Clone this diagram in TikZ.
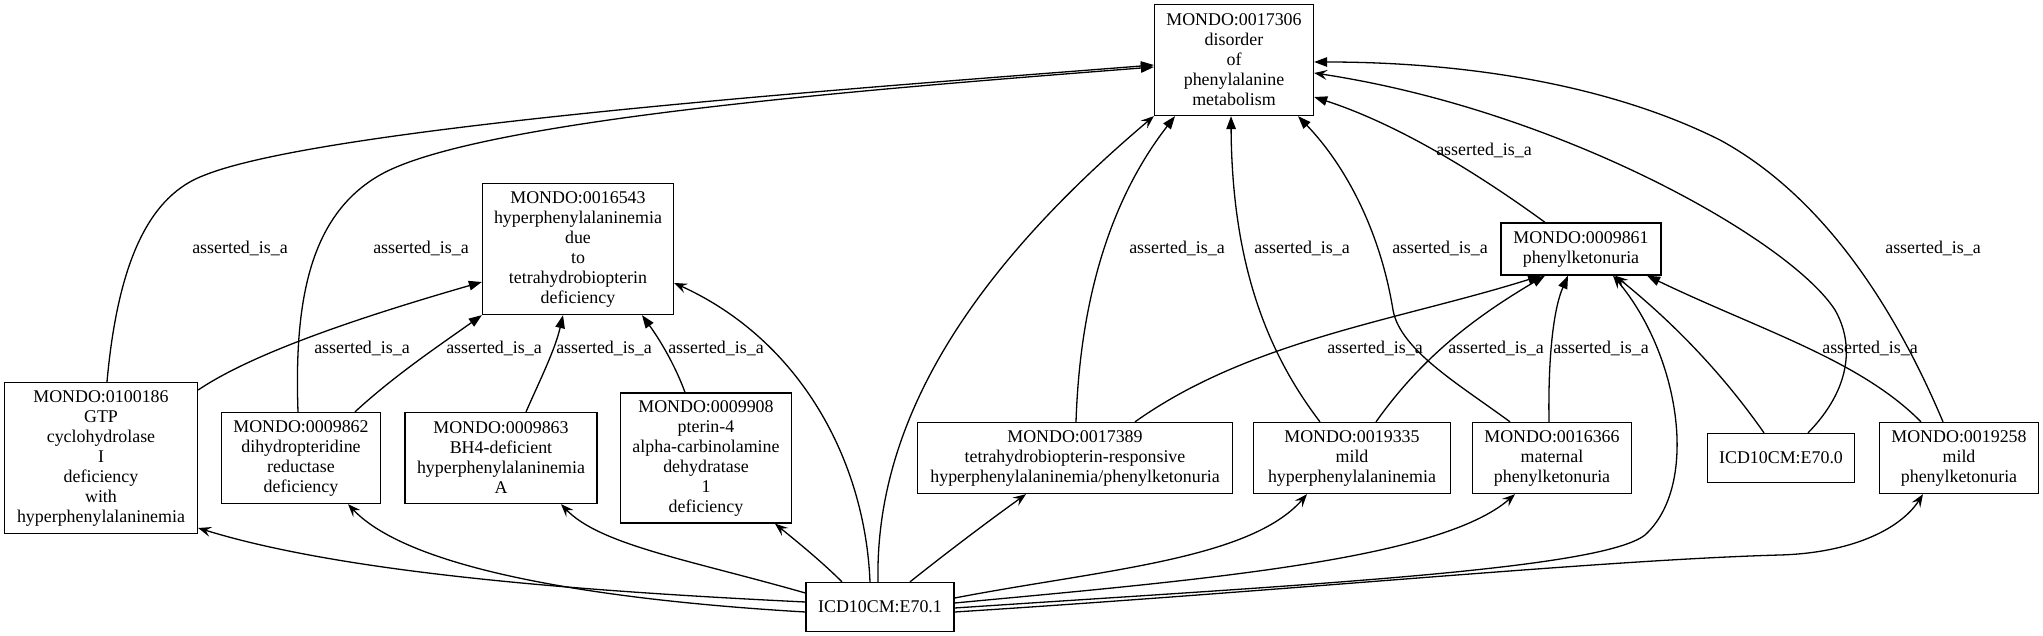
\documentclass[tikz,border=0pt]{standalone}
\usepackage{fontspec}
\setmainfont{Liberation Serif}
\usetikzlibrary{arrows.meta}
\begin{document}
\begin{tikzpicture}[x=1pt,y=-1pt,
  box/.style={draw, line width=1.3pt, align=center, inner sep=0pt, font=\fontsize{17.9}{20}\selectfont},
  lbl/.style={inner sep=0pt, font=\fontsize{17.9}{20}\selectfont},
  isa/.style={line width=1.3pt, -{Triangle[length=13pt,width=9.5pt]}},
  xref/.style={line width=1.3pt, -{Stealth[length=13pt,width=10pt,inset=5pt]}}]
\fill[white] (0,0) rectangle (2043,636);
\useasboundingbox (0,0) rectangle (2043,636);
% nodes
\node[box, minimum width=159pt, minimum height=111pt] (n17306) at (1234,60) {MONDO:0017306\\disorder\\of\\phenylalanine\\metabolism};
\node[box, minimum width=191pt, minimum height=131pt] (n16543) at (578,249) {MONDO:0016543\\hyperphenylalaninemia\\due\\to\\tetrahydrobiopterin\\deficiency};
\node[box, minimum width=160pt, minimum height=52pt] (n9861) at (1581,249) {MONDO:0009861\\phenylketonuria};
\node[box, minimum width=193pt, minimum height=151pt] (n100186) at (101,458) {MONDO:0100186\\GTP\\cyclohydrolase\\I\\deficiency\\with\\hyperphenylalaninemia};
\node[box, minimum width=159pt, minimum height=91pt] (n9862) at (301,458) {MONDO:0009862\\dihydropteridine\\reductase\\deficiency};
\node[box, minimum width=192pt, minimum height=91pt] (n9863) at (501,458) {MONDO:0009863\\BH4-deficient\\hyperphenylalaninemia\\A};
\node[box, minimum width=171pt, minimum height=130pt] (n9908) at (706,458) {MONDO:0009908\\pterin-4\\alpha-carbinolamine\\dehydratase\\1\\deficiency};
\node[box, minimum width=315pt, minimum height=71pt] (n17389) at (1075,458) {MONDO:0017389\\tetrahydrobiopterin-responsive\\hyperphenylalaninemia/phenylketonuria};
\node[box, minimum width=197pt, minimum height=71pt] (n19335) at (1352,458) {MONDO:0019335\\mild\\hyperphenylalaninemia};
\node[box, minimum width=159pt, minimum height=71pt] (n16366) at (1552,458) {MONDO:0016366\\maternal\\phenylketonuria};
\node[box, minimum width=147pt, minimum height=49pt] (e700) at (1781,458) {ICD10CM:E70.0};
\node[box, minimum width=159pt, minimum height=71pt] (n19258) at (1959,458) {MONDO:0019258\\mild\\phenylketonuria};
\node[box, minimum width=148pt, minimum height=49pt] (e701) at (880,607) {ICD10CM:E70.1};
% asserted_is_a edges
\draw[isa] ([xshift=6pt]n100186.north) .. controls (118,260) and (150,195) .. (205,175) .. controls (330,125) and (900,85) .. ([yshift=-5pt]n17306.west);
\draw[isa] ([xshift=-3pt]n9862.north) .. controls (294,300) and (310,215) .. (380,175) .. controls (480,118) and (900,87) .. ([yshift=-7pt]n17306.west);
\draw[isa] ([yshift=68pt]n100186.east) .. controls (250,355) and (350,320) .. ([yshift=-33pt]n16543.west);
\draw[isa] ([xshift=54pt]n9862.north) .. controls (395,375) and (440,345) .. (n16543.south west);
\draw[isa] ([xshift=25pt]n9863.north) .. controls (540,380) and (555,350) .. ([xshift=-15pt]n16543.south);
\draw[isa] ([xshift=-21pt]n9908.north) .. controls (675,365) and (660,340) .. ([xshift=64pt]n16543.south);
\draw[isa] ([xshift=1pt]n17389.north) .. controls (1080,300) and (1110,200) .. ([xshift=-59pt]n17306.south);
\draw[isa] ([xshift=-32pt]n19335.north) .. controls (1265,350) and (1232,260) .. ([xshift=-3pt]n17306.south);
\draw[isa] ([xshift=-42pt]n16366.north) .. controls (1460,385) and (1400,350) .. (1393,310) .. controls (1380,230) and (1345,165) .. ([xshift=64pt]n17306.south);
\draw[isa] ([xshift=-36pt]n9861.north) .. controls (1480,175) and (1400,125) .. ([yshift=-37pt]n17306.east);
\draw[isa] ([xshift=-16pt]n19258.north) .. controls (1900,320) and (1830,200) .. (1720,140) .. controls (1600,80) and (1450,62) .. ([yshift=-2pt]n17306.east);
\draw[isa] ([xshift=60pt]n17389.north) .. controls (1250,340) and (1400,320) .. ([xshift=-40pt]n9861.south);
\draw[isa] ([xshift=24pt]n19335.north) .. controls (1420,360) and (1470,320) .. ([xshift=-36pt]n9861.south);
\draw[isa] ([xshift=-3pt]n16366.north) .. controls (1548,360) and (1553,310) .. ([xshift=-13pt]n9861.south);
\draw[isa] ([xshift=-38pt]n19258.north) .. controls (1860,360) and (1760,330) .. ([xshift=66pt]n9861.south);
% ICD10CM:E70.0 edges
\draw[xref] ([xshift=27pt]e700.north) .. controls (1850,390) and (1855,345) .. (1835,310) .. controls (1790,240) and (1560,110) .. ([yshift=-13pt]n17306.east);
\draw[xref] ([xshift=-17pt]e700.north) .. controls (1720,370) and (1670,320) .. ([xshift=34pt]n9861.south);
% ICD10CM:E70.1 edges
\draw[xref] ([yshift=5pt]e701.west) .. controls (600,592) and (350,575) .. ([yshift=-70pt]n100186.east);
\draw[xref] ([yshift=-5pt]e701.west) .. controls (600,600) and (410,570) .. ([xshift=47pt]n9862.south);
\draw[xref] ([yshift=14pt]e701.west) .. controls (690,560) and (600,545) .. ([xshift=60pt]n9863.south);
\draw[xref] ([xshift=-38pt]e701.north) .. controls (820,560) and (795,540) .. ([xshift=69pt]n9908.south);
\draw[xref] ([xshift=-10pt]e701.north) .. controls (865,460) and (800,340) .. ([yshift=-34pt]n16543.east);
\draw[xref] ([xshift=-2pt]e701.north) .. controls (875,430) and (960,280) .. (n17306.south west);
\draw[xref] ([xshift=30pt]e701.north) .. controls (950,550) and (990,520) .. ([xshift=-49pt]n17389.south);
\draw[xref] ([yshift=9pt]e701.east) .. controls (1100,570) and (1250,560) .. ([xshift=-45pt]n19335.south);
\draw[xref] ([yshift=4pt]e701.east) .. controls (1200,580) and (1440,560) .. ([xshift=-37pt]n16366.south);
\draw[xref] ([yshift=-1pt]e701.east) .. controls (1300,585) and (1600,570) .. (1645,535) .. controls (1700,485) and (1680,355) .. ([xshift=32pt]n9861.south);
\draw[xref] ([yshift=-5pt]e701.east) .. controls (1300,590) and (1600,560) .. (1780,555) .. controls (1850,553) and (1900,530) .. ([xshift=-36pt]n19258.south);
% labels
\node[lbl] (l1) at (240,248) {asserted\_is\_a};
\node[lbl] (l2) at (421,248) {asserted\_is\_a};
\node[lbl] (l3) at (362,348) {asserted\_is\_a};
\node[lbl] (l4) at (494,348) {asserted\_is\_a};
\node[lbl] (l5) at (604,348) {asserted\_is\_a};
\node[lbl] (l6) at (716,348) {asserted\_is\_a};
\node[lbl] (l7) at (1177,248) {asserted\_is\_a};
\node[lbl] (l8) at (1302,248) {asserted\_is\_a};
\node[lbl] (l9) at (1440,248) {asserted\_is\_a};
\node[lbl] (l10) at (1484,150) {asserted\_is\_a};
\node[lbl] (l11) at (1933,248) {asserted\_is\_a};
\node[lbl] (l12) at (1375,348) {asserted\_is\_a};
\node[lbl] (l13) at (1496,348) {asserted\_is\_a};
\node[lbl] (l14) at (1601,348) {asserted\_is\_a};
\node[lbl] (l15) at (1870,348) {asserted\_is\_a};
\end{tikzpicture}
\end{document}
